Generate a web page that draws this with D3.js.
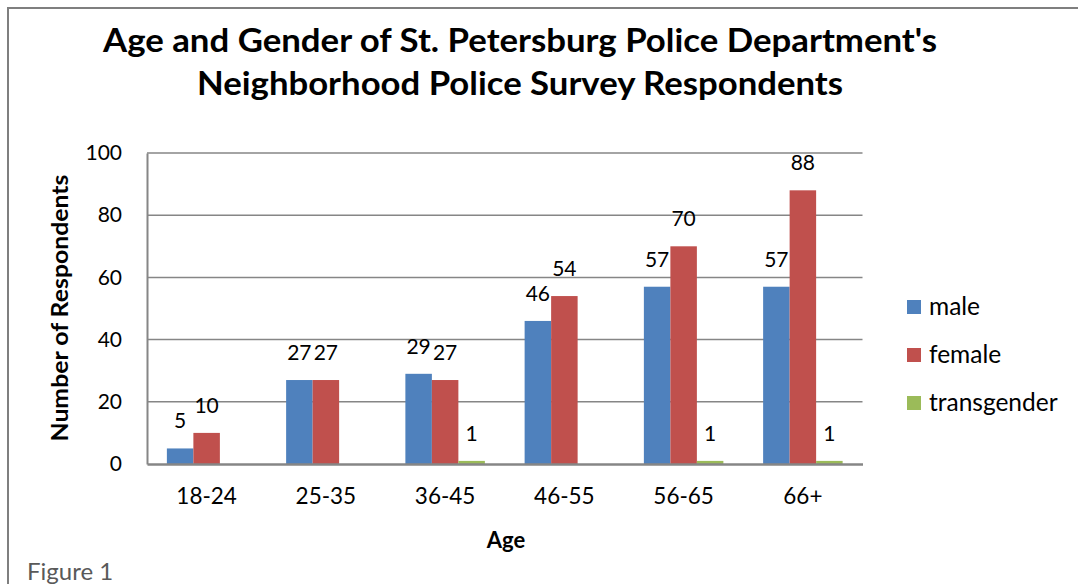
<!DOCTYPE html>
<html><head><meta charset="utf-8">
<script src="https://cdn.jsdelivr.net/npm/d3@7"></script>
<style>body{margin:0;background:#fff}svg{display:block}text{font-family:Lato,"Noto Sans",sans-serif}</style>
</head><body><svg id="c" width="1078" height="584"></svg>
<script>
const categories = ["18-24","25-35","36-45","46-55","56-65","66+"];
const seriesNames = ["male","female","transgender"];
const male = [5,27,29,46,57,57];
const female = [10,27,27,54,70,88];
const transgender = [0,0,1,0,1,1];
const yTicks = [0,20,40,60,80,100];
const titleLines = ["Age and Gender of St. Petersburg Police Department's","Neighborhood Police Survey Respondents"];
const colors = ["#4F81BD","#C0504D","#9BBB59"];
const seriesValues = [male, female, transgender];

const svg = d3.select("#c");
const L = 147, R = 862.5, T = 153, B = 464;
const groupW = (R-L)/categories.length;
const barW = groupW/4.5;
const xg = d3.scaleBand().domain(categories).range([L,R]).padding(0);
const x1 = d3.scaleBand().domain(seriesNames).range([0, barW*3]);
const y = d3.scaleLinear().domain([0,100]).range([B,T]);

// frame
svg.append("path").attr("d","M8,584 V8 H1078").attr("fill","none").attr("stroke","#7f7f7f").attr("stroke-width",2);

// title
titleLines.forEach((t,i)=>{
  svg.append("text").attr("x",520).attr("y",[52,95][i]).attr("text-anchor","middle")
    .attr("font-size",32).attr("font-weight","bold").attr("fill","#000")
    .attr("textLength",[834,646][i]).attr("lengthAdjust","spacingAndGlyphs").text(t);
});

// gridlines
svg.append("g").selectAll("line").data(yTicks.filter(d=>d>0)).join("line")
  .attr("x1",L).attr("x2",R).attr("y1",d=>y(d)).attr("y2",d=>y(d))
  .attr("stroke","#868686").attr("stroke-width",1.5);

// y axis
const yAxis = svg.append("g").attr("transform",`translate(${L},0)`)
  .call(d3.axisLeft(y).tickValues(yTicks).tickSize(0).tickPadding(25));
yAxis.select(".domain").attr("stroke","#868686").attr("stroke-width",2);
yAxis.selectAll("text").attr("font-size",21).attr("fill","#000").attr("font-family","Lato,sans-serif");

// bars
const groups = svg.append("g").selectAll("g").data(categories).join("g")
  .attr("transform",d=>`translate(${xg(d)+(groupW-barW*3)/2},0)`);
seriesNames.forEach((s,si)=>{
  groups.append("rect")
    .attr("x",x1(s)).attr("width",x1.bandwidth())
    .attr("y",(d,i)=>y(seriesValues[si][i])).attr("height",(d,i)=>B-y(seriesValues[si][i]))
    .attr("fill",colors[si]);
  groups.filter((d,i)=>seriesValues[si][i]>0).append("text")
    .attr("x",x1(s)+x1.bandwidth()/2)
    .attr("y",d=>y(seriesValues[si][categories.indexOf(d)])-20)
    .attr("text-anchor","middle").attr("font-size",21).attr("fill","#000")
    .text(d=>seriesValues[si][categories.indexOf(d)]);
});

// x axis
const xAxis = svg.append("g").attr("transform",`translate(0,${B})`)
  .call(d3.axisBottom(xg).tickSize(0).tickPadding(24));
xAxis.select(".domain").attr("stroke","#868686").attr("stroke-width",2.5);
xAxis.selectAll("text").attr("font-size",22.5).attr("fill","#000").attr("font-family","Lato,sans-serif");

// axis titles
svg.append("text").attr("x",506).attr("y",548).attr("text-anchor","middle")
  .attr("font-size",22).attr("font-weight","bold").text("Age");
svg.append("text").attr("transform","translate(68,308) rotate(-90)").attr("text-anchor","middle")
  .attr("font-size",23).attr("font-weight","bold")
  .attr("textLength",267).attr("lengthAdjust","spacingAndGlyphs").text("Number of Respondents");

// legend
const leg = svg.append("g").selectAll("g").data(seriesNames).join("g")
  .attr("transform",(d,i)=>`translate(907,${307+i*48})`);
leg.append("rect").attr("x",0).attr("y",-7).attr("width",14).attr("height",14).attr("fill",(d,i)=>colors[i]);
leg.append("text").attr("x",22).attr("y",8).attr("font-size",24.5).attr("fill","#000").text(d=>d);

// figure caption
svg.append("text").attr("x",27).attr("y",580).attr("font-size",24).attr("fill","#595959").text("Figure 1");
</script></body></html>
